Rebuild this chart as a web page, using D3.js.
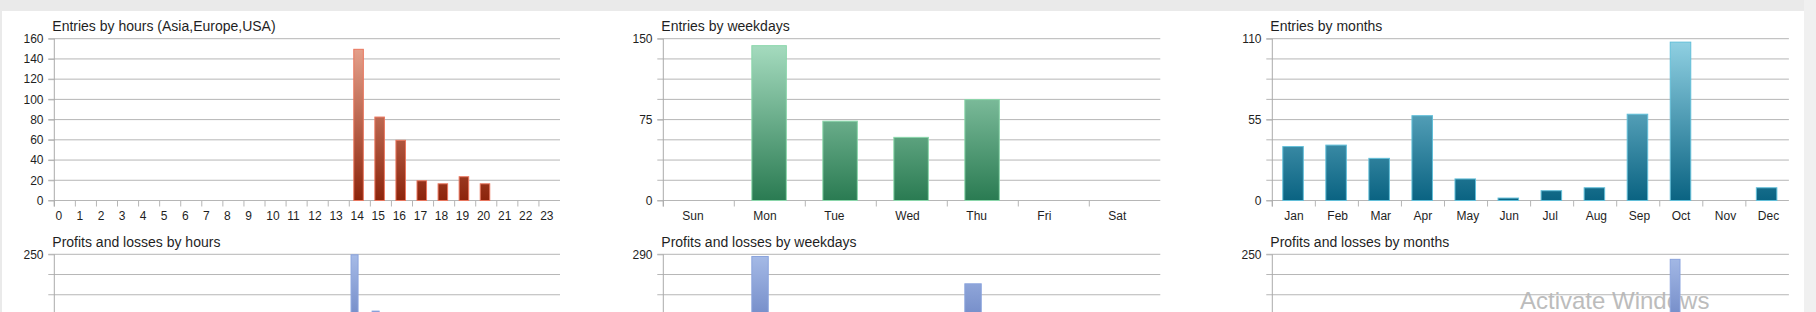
<!DOCTYPE html>
<html>
<head>
<meta charset="utf-8">
<script src="https://cdn.jsdelivr.net/npm/d3@7"></script>
<style>
  html, body { margin: 0; padding: 0; background: #eaeaea; overflow: hidden; }
  svg { display: block; }
  text { font-family: "Liberation Sans", Arial, sans-serif; fill: #1f1f1f; }
</style>
</head>
<body>
<svg id="board" width="1816" height="312"></svg>
<script>
// ---- data -------------------------------------------------------------
const hourLabels = ["0","1","2","3","4","5","6","7","8","9","10","11","12","13","14","15","16","17","18","19","20","21","22","23"];
const hourEntries = [0,0,0,0,0,0,0,0,0,0,0,0,0,0,150,83,60,20,17,24,17,0,0,0];
const hourEntryTicks = [0,20,40,60,80,100,120,140,160];

const weekdayLabels = ["Sun","Mon","Tue","Wed","Thu","Fri","Sat"];
const weekdayEntries = [0,144,74,59,94,0,0];
const weekdayEntryTicks = [0,75,150];

const monthLabels = ["Jan","Feb","Mar","Apr","May","Jun","Jul","Aug","Sep","Oct","Nov","Dec"];
const monthEntries = [37,38,29,58,15,2,7,9,59,108,0,9];
const monthEntryTicks = [0,55,110];

const hourProfits = [0,0,0,0,0,0,0,0,0,0,0,0,0,0,250,76,0,0,0,0,0,0,0,0];
const hourProfitTicks = [-250,0,250];
const weekdayProfits = [0,284,0,0,186,0,0];
const weekdayProfitTicks = [-290,0,290];
const monthProfits = [0,0,0,0,0,0,0,0,0,236,0,0];
const monthProfitTicks = [-250,0,250];

// ---- page frame -------------------------------------------------------
const W = 1816, H = 312;
const svg = d3.select("#board");
svg.append("rect").attr("x", 2).attr("y", 11).attr("width", 1802).attr("height", H - 11).attr("fill", "#ffffff");
svg.append("rect").attr("x", 1804).attr("y", 0).attr("width", 12).attr("height", H).attr("fill", "#f0f0f0");

const defs = svg.append("defs");
function gradient(id, y1, y2, c1, c2) {
  const lg = defs.append("linearGradient").attr("id", id)
    .attr("gradientUnits", "userSpaceOnUse")
    .attr("x1", 0).attr("x2", 0).attr("y1", y1).attr("y2", y2);
  lg.append("stop").attr("offset", "0%").attr("stop-color", c1);
  lg.append("stop").attr("offset", "100%").attr("stop-color", c2);
}

const PLOT_H = 161.8;
const columns = [
  { x0: 54.3,   x1: 560.0 },
  { x0: 663.3,  x1: 1160.3 },
  { x0: 1272.3, x1: 1788.9 }
];
const rows = [38.7, 254.3];

// system watermark sits under the chart marks
svg.append("text")
  .attr("x", 1520).attr("y", 309)
  .style("font-size", "24px")
  .style("fill", "#bcbcbc")
  .text("Activate Windows");

function panel(o) {
  const { x0, x1 } = columns[o.col];
  const top = rows[o.row];
  const bottom = top + PLOT_H;
  const x = d3.scaleBand().domain(o.labels).range([x0, x1]);
  const y = d3.scaleLinear()
    .domain([o.ticks[0], o.ticks[o.ticks.length - 1]])
    .range([bottom, top]);
  const bw = x.bandwidth();
  const g = svg.append("g");

  gradient(o.id, top, o.gradEnd === "zero" ? y(0) : bottom, o.c1, o.c2);

  g.append("text")
    .attr("x", x0 - 2).attr("y", top - 7.7)
    .style("font-size", "14px")
    .text(o.title);

  // horizontal grid: eight equal divisions of the value range
  const [lo, hi] = y.domain();
  const grid = d3.range(9).map(i => lo + (hi - lo) * i / 8);
  g.selectAll("line.grid").data(grid).join("line")
    .attr("class", "grid")
    .attr("x1", x0 - 6).attr("x2", x1)
    .attr("y1", d => y(d)).attr("y2", d => y(d))
    .attr("stroke", "#b6b6b6").attr("stroke-width", 1);

  // value axis labels (only those that fall inside the board)
  const yAxis = g.append("g")
    .attr("transform", `translate(${x0},0)`)
    .call(d3.axisLeft(y).tickValues(o.ticks.filter(t => y(t) < H - 8)).tickSize(6).tickPadding(4.8));
  yAxis.select(".domain").remove();
  yAxis.selectAll(".tick line").attr("stroke", "#b6b6b6");
  yAxis.selectAll(".tick text")
    .style("font-size", "12px").style("font-family", "'Liberation Sans', Arial, sans-serif")
    .attr("fill", "#1f1f1f");

  // category axis: ticks on band boundaries, labels from the band start
  if (bottom + 20 < H) {
    const xAxis = g.append("g")
      .attr("transform", `translate(0,${bottom})`)
      .call(d3.axisBottom(x).tickSize(6).tickPadding(6));
    xAxis.select(".domain").remove();
    xAxis.selectAll(".tick line")
      .attr("x1", -bw / 2).attr("x2", -bw / 2)
      .attr("stroke", "#b6b6b6");
    xAxis.selectAll(".tick text")
      .attr("text-anchor", "start")
      .attr("x", -bw / 2 + o.labelDx)
      .attr("y", 10.5)
      .style("font-size", "12px").style("font-family", "'Liberation Sans', Arial, sans-serif")
      .attr("fill", "#1f1f1f");
  }

  // value axis line
  g.append("line")
    .attr("x1", x0).attr("x2", x0)
    .attr("y1", top).attr("y2", Math.min(bottom + 6, H))
    .attr("stroke", "#ababab").attr("stroke-width", 1);

  // bars
  const rows_ = o.labels.map((l, i) => ({ label: l, value: o.values[i] }));
  g.selectAll("rect.bar").data(rows_.filter(d => d.value > 0)).join("rect")
    .attr("class", "bar")
    .attr("x", d => x(d.label) + o.barOffset * bw + 0.5)
    .attr("width", o.barWidth * bw - 1)
    .attr("y", d => y(d.value) + 0.5)
    .attr("height", d => y(0) - y(d.value) - 0.5)
    .attr("fill", `url(#${o.id})`)
    .attr("stroke", o.stroke).attr("stroke-width", 1);
}

const red = { c1: "#eaa893", c2: "#8c240b", stroke: "#e9765e" };
const green = { c1: "#aadfc3", c2: "#2a7b52", stroke: "#8ad6aa" };
const teal = { c1: "#92d2e4", c2: "#0a6382", stroke: "#62bfd9" };
const blue = { c1: "#a6bbe7", c2: "#667fc0", stroke: "#8aa3dd", gradEnd: "zero" };

panel({ id: "gHourE", row: 0, col: 0, title: "Entries by hours (Asia,Europe,USA)",
  labels: hourLabels, values: hourEntries, ticks: hourEntryTicks,
  barOffset: 0.19, barWidth: 0.5, labelDx: 1.2, ...red });
panel({ id: "gWeekE", row: 0, col: 1, title: "Entries by weekdays",
  labels: weekdayLabels, values: weekdayEntries, ticks: weekdayEntryTicks,
  barOffset: 0.24, barWidth: 0.5, labelDx: 19, ...green });
panel({ id: "gMonthE", row: 0, col: 2, title: "Entries by months",
  labels: monthLabels, values: monthEntries, ticks: monthEntryTicks,
  barOffset: 0.232, barWidth: 0.5, labelDx: 12, ...teal });

panel({ id: "gHourP", row: 1, col: 0, title: "Profits and losses by hours",
  labels: hourLabels, values: hourProfits, ticks: hourProfitTicks,
  barOffset: 0.06, barWidth: 0.38, labelDx: 1.2, ...blue });
panel({ id: "gWeekP", row: 1, col: 1, title: "Profits and losses by weekdays",
  labels: weekdayLabels, values: weekdayProfits, ticks: weekdayProfitTicks,
  barOffset: 0.24, barWidth: 0.245, labelDx: 19, ...blue });
panel({ id: "gMonthP", row: 1, col: 2, title: "Profits and losses by months",
  labels: monthLabels, values: monthProfits, ticks: monthProfitTicks,
  barOffset: 0.232, barWidth: 0.25, labelDx: 12, ...blue });
</script>
</body>
</html>
